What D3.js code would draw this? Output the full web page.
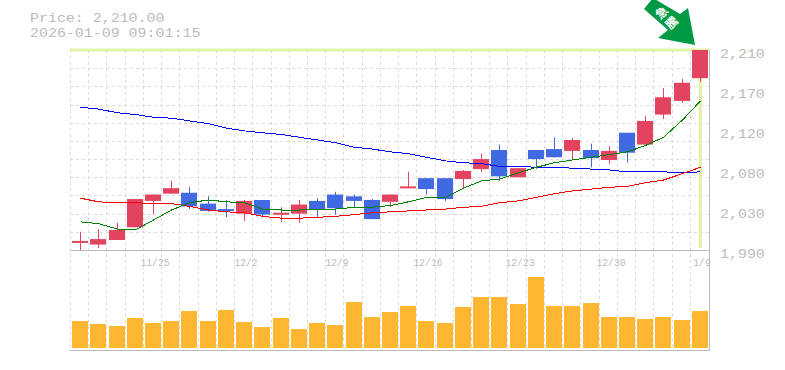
<!DOCTYPE html>
<html>
<head>
<meta charset="utf-8">
<script src="https://cdn.jsdelivr.net/npm/d3@7"></script>
<style>
  html, body { margin: 0; padding: 0; background: #fff; }
  svg { display: block; }
  text { font-family: "Liberation Mono", "DejaVu Sans Mono", monospace; fill: #bbb; }
</style>
</head>
<body>
<script>
// Daily candles, oldest first
const dates = ['11/18','11/19','11/20','11/21','11/25','11/26','11/27','11/28','12/1','12/2','12/3','12/4','12/5','12/8','12/9','12/10','12/11','12/12','12/15','12/16','12/17','12/18','12/19','12/22','12/23','12/24','12/25','12/26','12/29','12/30','1/5','1/6','1/7','1/8','1/9'];
const opens  = [1998,1996,2001,2015,2044,2052,2053,2041,2035,2030,2045,2029,2030,2044,2051,2049,2045,2043,2058,2069,2069,2068,2079,2100,2070,2100,2101,2099,2100,2089,2119,2106,2139,2154,2179];
const closes = [2000,2002,2012,2046,2051,2058,2038,2033,2033,2044,2029,2031,2040,2035,2036,2044,2024,2051,2060,2057,2046,2077,2090,2071,2080,2090,2092,2111,2091,2099,2097,2132,2158,2174,2210];
const highs  = [2010,2013,2020,2046,2051,2066,2059,2049,2045,2045,2045,2037,2045,2047,2054,2051,2046,2051,2076,2069,2069,2078,2096,2106,2080,2100,2114,2113,2107,2104,2119,2137,2168,2178,2210];
const lows   = [1990,1992,2001,2015,2029,2052,2035,2032,2026,2022,2026,2021,2020,2025,2029,2037,2024,2037,2058,2051,2044,2057,2076,2066,2070,2079,2092,2090,2081,2085,2086,2106,2134,2152,2175];
const volumes = [27,24,22,30,25,27,37,27,38,26,21,30,19,25,23,46,31,36,42,27,25,41,51,51,44,71,42,42,45,31,31,29,31,28,37];

// Moving averages
const ma5  = [2021,2019,2013,2012,2023,2034,2042,2045,2043,2042,2035,2034,2034,2035,2035,2037,2037,2039,2043,2048,2048,2058,2066,2068,2075,2081,2086,2089,2092,2095,2098,2105,2114,2133,2154];
const ma25 = [2047,2043,2042,2042,2041,2041,2038,2034,2032,2031,2027,2025,2025,2026,2027,2029,2031,2032,2033,2034,2035,2037,2038,2042,2044,2048,2052,2055,2057,2059,2060,2064,2067,2074,2081];
const ma75 = [2147,2145,2141,2139,2136,2135,2132,2129,2124,2121,2119,2117,2114,2111,2108,2103,2101,2098,2096,2092,2088,2086,2085,2082,2082,2081,2081,2080,2079,2078,2076,2076,2076,2075,2076];

const priceTicks = [2210,2166,2122,2078,2034,1990];
const gridPrices = d3.range(1990, 2211, 20);
const labelEvery = 5;

const titleLines = ['Price: 2,210.00', '2026-01-09 09:01:15'];
const arrowText = ['急', '騰'];

const w = 785;
const h = 370;
const plotLeft = 71;
const plotRight = 709;
const plotTop = 50;
const priceBottom = 250;
const volBottom = 350;

const UP = '#e2435f';
const DOWN = '#4169e1';
const GRID = '#dcdcdc';
const AXIS = '#bbb';
const HILITE = '#e3f3a4';

const svg = d3.select('body').append('svg')
  .attr('width', w)
  .attr('height', h);

const x = d3.scaleBand().domain(d3.range(dates.length)).range([plotLeft, plotRight]);
const y = d3.scaleLinear().domain([1990, 2210]).range([priceBottom, plotTop]);
const yVol = d3.scaleLinear().domain([0, 71]).range([volBottom - 2, 277]);
const cx = i => Math.round(x(i) + x.bandwidth() / 2);

// Grid
const boundaries = d3.range(dates.length).map(i => plotLeft + i * x.step());
svg.append('g').selectAll('line')
  .data(boundaries)
  .enter().append('line')
  .attr('x1', d => Math.round(d) + 0.5 - 1)
  .attr('x2', d => Math.round(d) + 0.5 - 1)
  .attr('y1', plotTop)
  .attr('y2', volBottom)
  .attr('stroke', GRID)
  .attr('stroke-dasharray', '3,3');

svg.append('g').selectAll('line')
  .data(gridPrices.slice(1, -1))
  .enter().append('line')
  .attr('x1', plotLeft - 1)
  .attr('x2', plotRight)
  .attr('y1', d => Math.round(y(d)) + 0.5)
  .attr('y2', d => Math.round(y(d)) + 0.5)
  .attr('stroke', GRID)
  .attr('stroke-dasharray', '3,3');

// Last-price highlight
svg.append('line')
  .attr('x1', plotLeft - 1).attr('x2', plotRight)
  .attr('y1', y(2210)).attr('y2', y(2210))
  .attr('stroke', HILITE).attr('stroke-width', 3);
svg.append('line')
  .attr('x1', cx(dates.length - 1) + 0.5).attr('x2', cx(dates.length - 1) + 0.5)
  .attr('y1', plotTop).attr('y2', priceBottom - 2)
  .attr('stroke', HILITE).attr('stroke-width', 3);

// Axes frame
svg.append('path')
  .attr('d', `M${plotLeft - 1},${priceBottom + 0.5}H${plotRight + 0.5}M${plotLeft - 1},${volBottom + 0.5}H${plotRight + 0.5}M${plotRight + 0.5},${plotTop}V${volBottom + 1}`)
  .attr('fill', 'none')
  .attr('stroke', AXIS);

// Volume
svg.append('g').selectAll('rect')
  .data(volumes)
  .enter().append('rect')
  .attr('x', (d, i) => cx(i) - 8)
  .attr('y', d => yVol(d))
  .attr('width', 16)
  .attr('height', d => yVol(0) - yVol(d))
  .attr('fill', '#ffb732');

// Candles
const candles = svg.append('g').selectAll('g')
  .data(dates.map((d, i) => i))
  .enter().append('g');
candles.append('line')
  .attr('x1', i => cx(i) + 0.5)
  .attr('x2', i => cx(i) + 0.5)
  .attr('y1', i => y(highs[i]))
  .attr('y2', i => y(lows[i]))
  .attr('stroke', i => closes[i] >= opens[i] ? UP : DOWN);
candles.append('rect')
  .attr('x', i => cx(i) - 8)
  .attr('y', i => y(Math.max(opens[i], closes[i])))
  .attr('width', 16)
  .attr('height', i => Math.max(2, Math.abs(y(opens[i]) - y(closes[i]))))
  .attr('fill', i => closes[i] >= opens[i] ? UP : DOWN);

// Moving average lines
const line = d3.line().x((d, i) => cx(i) + 0.5).y(d => y(d));
[[ma75, '#0000ff'], [ma25, '#ff0000'], [ma5, '#008000']].forEach(([values, color]) => {
  svg.append('path')
    .attr('d', line(values))
    .attr('fill', 'none')
    .attr('stroke', color)
    .attr('stroke-width', 1)
    .attr('shape-rendering', 'crispEdges');
});

// Axis labels, stretched sideways like the original bitmap font
svg.append('g').selectAll('text')
  .data(priceTicks)
  .enter().append('text')
  .attr('transform', d => `translate(720,${y(d) + 8}) scale(1.15,1)`)
  .attr('font-size', 13)
  .text(d => d3.format(',')(Math.round(d / 10) * 10));

svg.append('g').selectAll('text')
  .data(d3.range(dates.length).filter(i => i % labelEvery === labelEvery - 1))
  .enter().append('text')
  .attr('transform', i => `translate(${cx(i) + 2},266) scale(0.84,1)`)
  .attr('text-anchor', 'middle')
  .attr('font-size', 11.5)
  .text(i => dates[i]);

// Title
svg.append('g').selectAll('text')
  .data(titleLines)
  .enter().append('text')
  .attr('transform', (d, i) => `translate(30,${22 + i * 15}) scale(1.15,1)`)
  .attr('font-size', 13)
  .text(d => d);

// Arrow annotation, offsets measured from its tip at the last high
const arrowShape = [[0,0],[-37,-7],[-27,-15],[-51,-36],[-42,-47],[-15,-31],[-7,-37]];
const arrow = svg.append('g')
  .attr('transform', `translate(${cx(dates.length - 1) - 5},${y(2210) - 5})`);
arrow.append('path')
  .attr('d', d3.line()(arrowShape) + 'Z')
  .attr('fill', '#009944');
arrow.selectAll('text')
  .data(arrowText)
  .enter().append('text')
  .attr('transform', (d, i) => `translate(${-33 + i * 10},${-32 + i * 10}) rotate(-45)`)
  .attr('y', 4)
  .attr('text-anchor', 'middle')
  .attr('font-size', 12)
  .attr('font-weight', 'bold')
  .style('font-family', '"Noto Sans CJK JP"')
  .style('fill', '#fff')
  .text(d => d);
</script>
</body>
</html>
